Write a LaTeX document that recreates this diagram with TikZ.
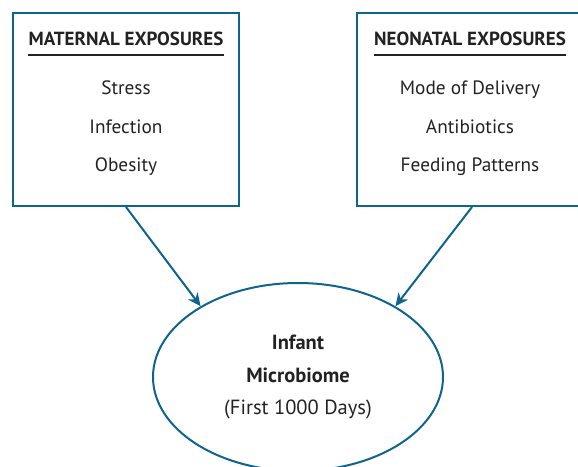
\documentclass[tikz,border=0pt]{standalone}
\usepackage{fontspec}
\setmainfont{PT Sans}
\usetikzlibrary{arrows.meta,shapes.geometric}

\definecolor{dblue}{RGB}{14,100,140}
\definecolor{txt}{RGB}{34,34,34}

\tikzset{
    box/.style={draw=dblue, line width=2pt, minimum height=193pt, inner sep=0pt},
    title/.style={font=\fontsize{19}{22}\selectfont\bfseries, text=txt, inner xsep=0pt, inner ysep=9pt},
    item/.style={font=\fontsize{19.3}{22}\selectfont, text=txt, text height=13.5pt, text depth=0pt},
    uline/.style={draw=txt, line width=2pt},
    arr/.style={draw=dblue, line width=2pt, -{Stealth[length=13pt,width=12pt]}}
}

\begin{document}
\begin{tikzpicture}[x=1pt,y=-1pt]
    \useasboundingbox (0,0) rectangle (578,466);
    % exposure boxes
    \node[box, minimum width=226pt] (mat) at (126,109.5) {};
    \node[box, minimum width=230pt] (neo) at (472,109.5) {};

    \node[title] (matT) at (126,39) {MATERNAL EXPOSURES};
    \draw[uline] (matT.south west) -- (matT.south east);
    \node[item] (stress) at (126,88) {Stress};
    \node[item] (infect) at (126,127) {Infection};
    \node[item] (obes) at (126,165) {Obesity};

    \node[title] (neoT) at (470,39) {NEONATAL EXPOSURES};
    \draw[uline] (neoT.south west) -- (neoT.south east);
    \node[item] (deliv) at (470,88) {Mode of Delivery};
    \node[item] (antib) at (470,127) {Antibiotics};
    \node[item] (feed) at (470,165) {Feeding Patterns};

    % outcome
    \node[ellipse, draw=dblue, line width=2pt, minimum width=290pt, minimum height=188pt,
          inner sep=0pt, align=center, text=txt, font=\fontsize{20.5}{32.5}\selectfont]
          (inf) at (298,377) {\textbf{Infant}\\\textbf{Microbiome}\\(First 1000 Days)};

    \draw[arr] (mat.south) -- (inf.144);
    \draw[arr] (neo.south) -- (inf.36);
\end{tikzpicture}
\end{document}
